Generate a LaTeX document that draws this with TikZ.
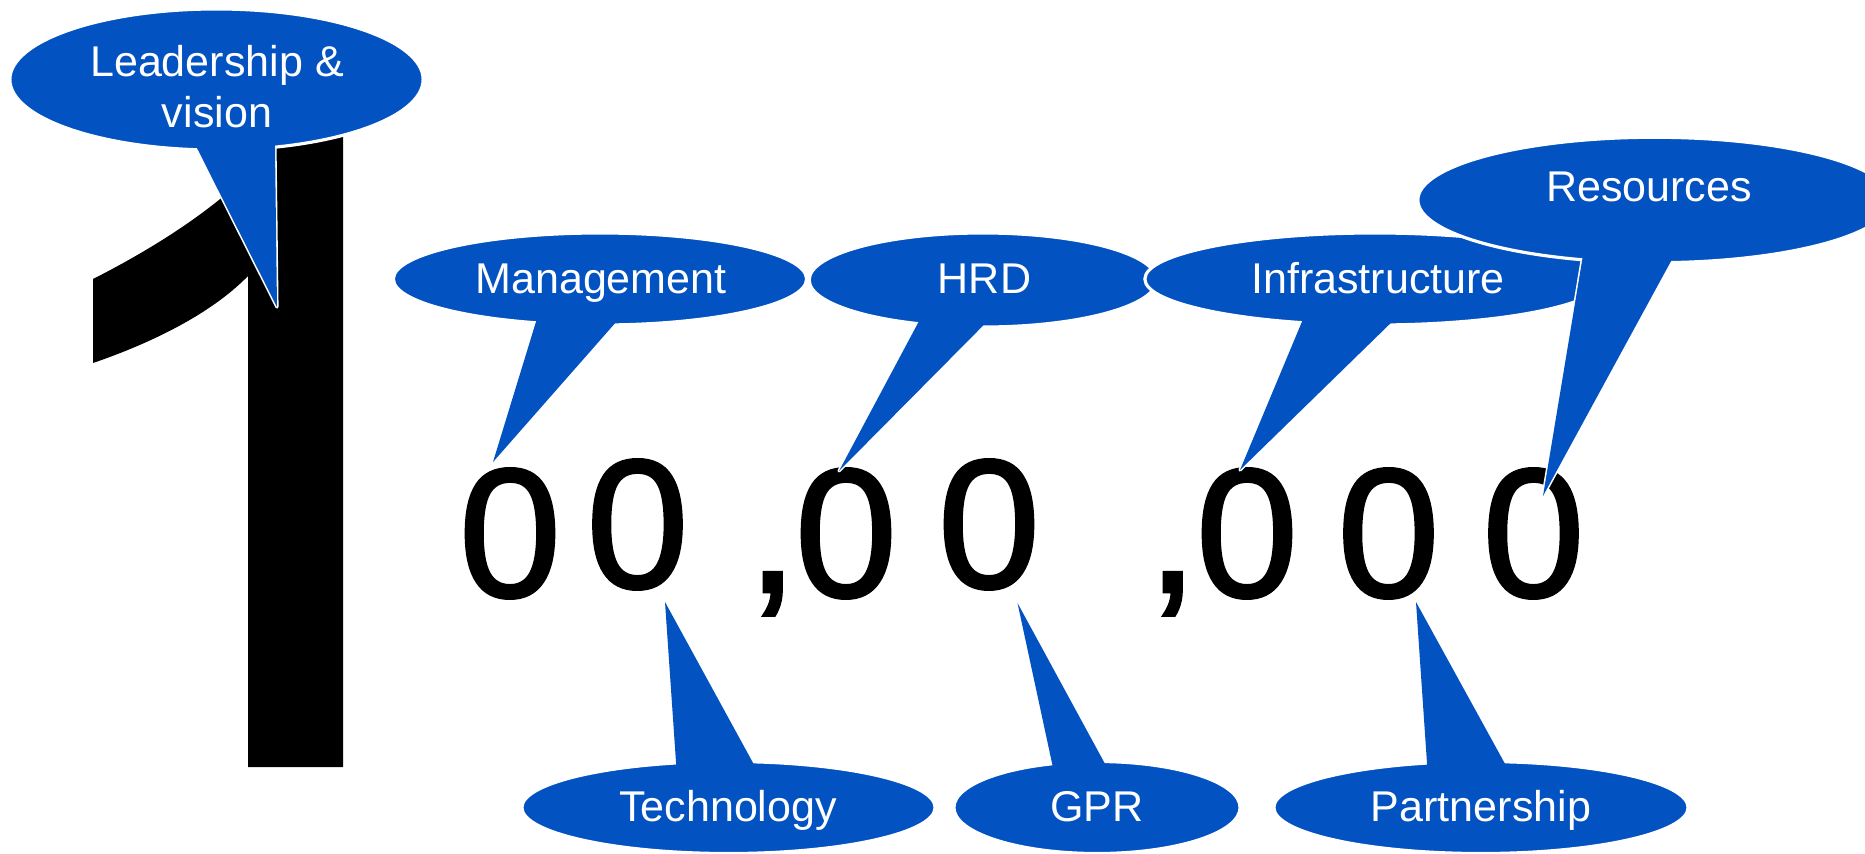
\documentclass[tikz,border=0pt]{standalone}
\usepackage{fontspec}
\setmainfont{Liberation Sans}
\newfontfamily\digitfont[FakeBold=1.5]{Liberation Sans}
\usetikzlibrary{shapes.geometric,calc}
\definecolor{cblue}{RGB}{2,82,194}
\newcommand\mycallout[7]{%
  \coordinate (#1-tip) at #7;
  \coordinate (#1-bl) at #5;
  \coordinate (#1-br) at #6;
  \draw[tailedge] ($(#1-tip)!1.12!(#1-bl)$) -- (#1-tip) -- ($(#1-tip)!1.12!(#1-br)$);
  \node[bubble, minimum width=#3, minimum height=#4] (#1) at #2 {};
  \fill[cblue] ($(#1-tip)!1.12!(#1-bl)$) -- (#1-tip) -- ($(#1-tip)!1.12!(#1-br)$) -- cycle;
}
\begin{document}
\begin{tikzpicture}[x=0.01cm,y=-0.01cm,
  bubble/.style={ellipse, fill=cblue, draw=white, line width=0.9pt, inner sep=0pt, outer sep=0pt},
  tailedge/.style={draw=white, line width=0.9pt, line join=round},
  lbl/.style={text=white, font=\fontsize{12.24pt}{14.46pt}\selectfont, inner sep=0pt, anchor=base, align=center},
  digit/.style={font=\digitfont\fontsize{52.3pt}{60pt}\selectfont, inner sep=0pt, anchor=base}]
\useasboundingbox (0,0) rectangle (1865,854);
\clip (0,0) rectangle (1865,854);
\fill[white] (0,0) rectangle (1865,854);
% big figure one
\fill[black] (93,279) -- (93,363) .. controls (160,340) and (215,310) .. (248,276)
  -- (248,767) -- (343,767) -- (343,128) -- (280,128) -- (270,150)
  .. controls (230,200) and (160,245) .. (93,279) -- cycle;
\node[digit] (d1) at (510,596.8) {0};
\node[digit] (d2) at (637.5,587.8) {0};
\node[digit] (c1) at (772.5,592) {,};
\node[digit] (d3) at (846,596.8) {0};
\node[digit] (d4) at (989,587.8) {0};
\node[digit] (c2) at (1172.5,592) {,};
\node[digit] (d5) at (1247,596.8) {0};
\node[digit] (d6) at (1388.5,596.8) {0};
\node[digit] (d7) at (1533.5,596.8) {0};
% callouts
\mycallout{lead}{(216.5,79.5)}{4.13cm}{1.41cm}{(198,150)}{(275,148)}{(277,307)}
\mycallout{mgmt}{(600,279)}{4.13cm}{0.92cm}{(535,325)}{(611.7,327)}{(493,462)}
\mycallout{hrd}{(983,280)}{3.474cm}{0.94cm}{(918,323)}{(981.7,327)}{(839,471)}
\mycallout{infra}{(1375,279)}{4.60cm}{0.92cm}{(1301,324)}{(1387,326.7)}{(1240,470)}
\mycallout{res}{(1654.5,200)}{4.73cm}{1.254cm}{(1582,261)}{(1670,263)}{(1543,496)}
\mycallout{tech}{(728.5,807.5)}{4.13cm}{0.92cm}{(676,762)}{(752,761)}{(665,602)}
\mycallout{gpr}{(1097,807.5)}{2.86cm}{0.92cm}{(1052,763)}{(1104,762)}{(1017.5,603)}
\mycallout{part}{(1481,807.5)}{4.14cm}{0.92cm}{(1427,763)}{(1504,762)}{(1416,602)}
% labels
\node[lbl] (leadt) at (217,127) {Leadership \&\\vision};
\node[lbl] (mgmtt) at (601,293) {Management};
\node[lbl] (hrdt) at (984.5,293) {HRD};
\node[lbl] (infrat) at (1378,293) {Infrastructure};
\node[lbl] (rest) at (1649,201) {Resources};
\node[lbl] (techt) at (728,821) {Technology};
\node[lbl] (gprt) at (1097,821) {GPR};
\node[lbl] (partt) at (1481,821) {Partnership};
\end{tikzpicture}
\end{document}
